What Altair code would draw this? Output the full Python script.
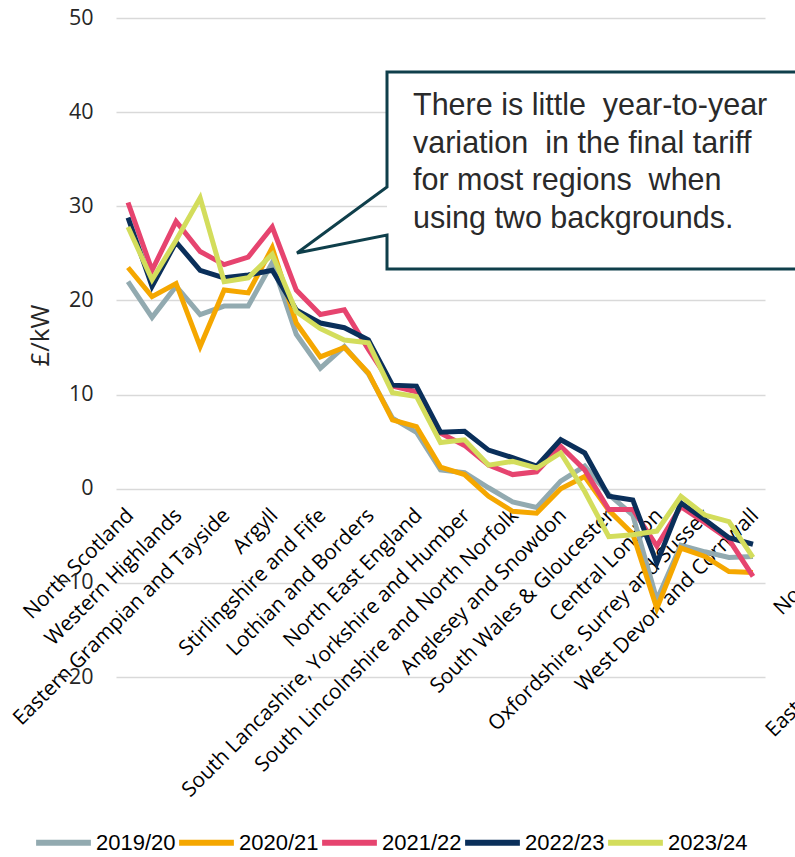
import altair as alt
import pandas as pd

# TNUoS generation zones (27), every other one labelled on the axis
regions = [
    "North Scotland", "East Aberdeenshire", "Western Highlands", "Skye and Lochalsh",
    "Eastern Grampian and Tayside", "Central Grampian", "Argyll", "The Trossachs",
    "Stirlingshire and Fife", "South West Scotlands", "Lothian and Borders",
    "Solway and Cheviot", "North East England", "North Lancashire and The Lakes",
    "South Lancashire, Yorkshire and Humber", "North Midlands and North Wales",
    "South Lincolnshire and North Norfolk", "Mid Wales and The Midlands",
    "Anglesey and Snowdon", "Pembrokeshire", "South Wales & Gloucester", "Cotswold",
    "Central London", "Essex and Kent", "Oxfordshire, Surrey and Sussex",
    "Somerset and Wessex", "West Devon and Cornwall",
]

years = ["2019/20", "2020/21", "2021/22", "2022/23", "2023/24"]
colors = ["#92aab0", "#f5a700", "#e6446f", "#0a2f5a", "#d3dd5c"]

# Final tariff, £/kW
t_2019 = [22.0, 18.2, 21.5, 18.5, 19.4, 19.4, 24.0, 16.4, 12.8, 15.1, 12.2, 7.5, 6.0,
          2.0, 1.7, 0.1, -1.4, -2.0, 0.8, 2.4, -0.6, -2.8, -11.8, -6.0, -6.7, -7.3, -7.2]
t_2020 = [23.5, 20.4, 21.8, 15.1, 21.1, 20.8, 25.6, 17.6, 14.0, 15.0, 12.3, 7.3, 6.6,
          2.3, 1.5, -0.8, -2.4, -2.6, 0.0, 1.3, -2.3, -4.8, -12.7, -6.3, -7.2, -8.8, -8.9]
t_2021 = [30.4, 23.2, 28.4, 25.2, 23.8, 24.6, 27.8, 21.1, 18.5, 19.0, 14.8, 10.9, 10.3,
          5.9, 4.6, 2.5, 1.5, 1.8, 4.5, 2.0, -2.2, -2.2, -6.1, -1.9, -3.6, -5.4, -9.3]
t_2022 = [28.8, 21.5, 26.2, 23.2, 22.4, 22.7, 23.2, 19.0, 17.6, 17.1, 15.8, 11.0, 10.9,
          6.0, 6.1, 4.1, 3.3, 2.4, 5.2, 3.8, -0.8, -1.2, -7.9, -1.5, -3.3, -5.2, -5.9]
t_2023 = [27.8, 22.2, 26.4, 30.9, 22.0, 22.4, 24.9, 18.8, 17.0, 15.8, 15.5, 10.2, 9.8,
          4.9, 5.2, 2.5, 2.9, 2.2, 3.8, -0.3, -5.1, -4.9, -4.5, -0.8, -2.8, -3.5, -7.3]

series = [t_2019, t_2020, t_2021, t_2022, t_2023]

NB = "\u00a0"
callout_lines = [
    f"There is little {NB}year-to-year",
    f"variation {NB}in the final tariff",
    f"for most regions {NB}when",
    "using two backgrounds.",
]

rows = []
for yr, vals in zip(years, series):
    for k, (reg, v) in enumerate(zip(regions, vals)):
        rows.append({"region": reg, "year": yr, "value": v, "k": k})
df = pd.DataFrame(rows)

W, H = 649, 659
LABEL_FONT = "Open Sans"

lines = alt.Chart(df).mark_line(strokeWidth=5).encode(
    x=alt.X(
        "region:N",
        sort=regions,
        scale=alt.Scale(domain=regions),
        axis=alt.Axis(
            title=None,
            values=regions[::2],
            orient="bottom",
            offset=-188,
            domain=False,
            ticks=False,
            tickSize=0,
            grid=False,
            labelAngle=-45,
            labelAlign="right",
            labelBaseline="top",
            labelPadding=16,
            labelOffset=-5,
            labelFont=LABEL_FONT,
            labelFontSize=20.8,
            labelColor="#000000",
            labelLimit=0,
            labelOverlap=False,
        ),
    ),
    y=alt.Y(
        "value:Q",
        scale=alt.Scale(domain=[-20, 50], nice=False, zero=False),
        axis=alt.Axis(
            title="£/kW",
            values=list(range(-20, 51, 10)),
            domain=False,
            ticks=False,
            tickSize=0,
            grid=True,
            gridColor="#d9d9d9",
            gridWidth=1.5,
            labelPadding=23,
            labelFont=LABEL_FONT,
            labelFontSize=21.5,
            labelColor="#262626",
            titleFont=LABEL_FONT,
            titleFontSize=26,
            titleFontWeight="normal",
            titleColor="#262626",
            titleX=-76,
            titleY=317,
            titleAlign="center",
            titleBaseline="middle",
        ),
    ),
    color=alt.Color(
        "year:N",
        scale=alt.Scale(domain=years, range=colors),
        legend=alt.Legend(
            title=None,
            orient="none",
            legendX=-83,
            legendY=794,
            direction="horizontal",
            columns=5,
            symbolType="stroke",
            symbolSize=3000,
            symbolStrokeWidth=6,
            symbolOpacity=1,
            columnPadding=-9,
            labelOffset=2,
            labelFont="Liberation Sans",
            labelFontSize=22,
            labelFontWeight="normal",
            labelColor="#000000",
        ),
    ),
    order=alt.Order("k:Q"),
)

one = pd.DataFrame({"a": [0]})

# callout box (white body, extends past the right edge)
box_fill = alt.Chart(one).mark_rect(fill="white", stroke=None).encode(
    x=alt.value(271), x2=alt.value(760), y=alt.value(54), y2=alt.value(251)
)

outline_pts = pd.DataFrame({
    "px": [760, 271, 271, 181, 271, 271, 760],
    "py": [54, 54, 169, 235, 217, 251, 251],
    "o": list(range(7)),
})
box_outline = alt.Chart(outline_pts).mark_line(
    color="#0f3f4b", strokeWidth=3, strokeJoin="miter"
).encode(
    x=alt.X("px:Q", scale=None, axis=None),
    y=alt.Y("py:Q", scale=None, axis=None),
    order="o:Q",
)

callout_text = alt.Chart(one).mark_text(
    align="left", baseline="alphabetic", font="Liberation Sans",
    fontSize=30.5, lineHeight=37.7, color="#2a2a2a",
).encode(x=alt.value(297), y=alt.value(97), text=alt.value(callout_lines))

# axis labels of the neighbouring panel, running off the right edge
side = pd.DataFrame({
    "t": ["North Scotland", "Eastern Grampian and Tayside"],
    "sx": [666, 658],
    "sy": [598, 720],
})
side_labels = alt.Chart(side).mark_text(
    angle=315, align="left", baseline="alphabetic", font=LABEL_FONT,
    fontSize=20.8, color="#000000",
).encode(
    x=alt.X("sx:Q", scale=None, axis=None),
    y=alt.Y("sy:Q", scale=None, axis=None),
    text="t:N",
)

chart = alt.layer(lines, box_fill, box_outline, callout_text, side_labels).resolve_scale(
    x="independent", y="independent"
).properties(
    width=W,
    height=H,
    autosize=alt.AutoSizeParams(type="none"),
    padding={"left": 116, "top": 18, "right": 30, "bottom": 180},
    background="white",
).configure_view(stroke=None)

chart.save("out.html", embed_options={"renderer": "svg", "actions": False})
